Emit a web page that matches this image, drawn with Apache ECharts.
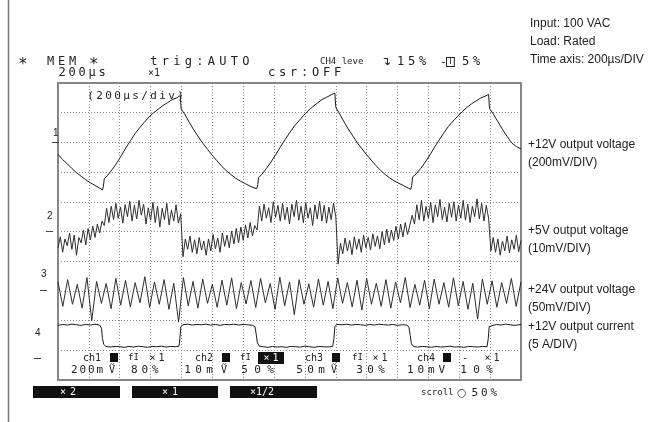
<!DOCTYPE html>
<html>
<head>
<meta charset="utf-8">
<script src="https://cdn.jsdelivr.net/npm/echarts/dist/echarts.min.js"></script>
<style>
  html, body { margin: 0; padding: 0; background: #fff; }
  #main { width: 651px; height: 422px; }
</style>
</head>
<body>
<div id="main"></div>
<script>
// scope screen: 15 div across, 10 div high. all trace values in divisions
var ch1 = [
  [0,7.60],[0.15,7.42],[0.3,7.28],[0.45,7.12],[0.6,6.98],[0.75,6.86],[0.9,6.74],[1.05,6.64],[1.2,6.55],[1.35,6.46],[1.44,6.40],
  [1.47,6.52],[1.50,6.78],[1.6,6.88],[1.75,7.08],[1.9,7.30],[2.05,7.55],[2.2,7.82],[2.35,8.06],[2.5,8.30],[2.65,8.50],[2.8,8.68],[2.95,8.86],[3.1,9.00],[3.25,9.12],[3.4,9.24],[3.55,9.34],[3.7,9.44],[3.85,9.50],[3.96,9.58],
  [3.99,9.12],[4.1,8.96],[4.25,8.68],[4.4,8.42],[4.55,8.18],[4.7,7.96],[4.85,7.76],[5.0,7.56],[5.15,7.38],[5.3,7.20],[5.45,7.05],[5.6,6.92],[5.75,6.80],[5.9,6.70],[6.05,6.62],[6.2,6.54],[6.35,6.47],[6.44,6.44],
  [6.47,6.58],[6.50,6.82],[6.6,6.92],[6.75,7.12],[6.9,7.34],[7.05,7.58],[7.2,7.84],[7.35,8.08],[7.5,8.32],[7.65,8.54],[7.8,8.72],[7.95,8.90],[8.1,9.06],[8.25,9.20],[8.4,9.32],[8.55,9.44],[8.7,9.52],[8.85,9.60],[8.97,9.66],
  [9.0,9.18],[9.1,9.00],[9.25,8.72],[9.4,8.46],[9.55,8.22],[9.7,7.98],[9.85,7.78],[10.0,7.58],[10.15,7.40],[10.3,7.22],[10.45,7.06],[10.6,6.92],[10.75,6.80],[10.9,6.70],[11.05,6.62],[11.2,6.54],[11.35,6.46],[11.43,6.42],
  [11.46,6.56],[11.49,6.84],[11.6,6.94],[11.75,7.12],[11.9,7.34],[12.05,7.58],[12.2,7.84],[12.35,8.08],[12.5,8.32],[12.65,8.54],[12.8,8.72],[12.95,8.88],[13.1,9.04],[13.25,9.18],[13.4,9.30],[13.55,9.40],[13.7,9.50],[13.85,9.56],[13.95,9.62],
  [13.98,9.14],[14.1,8.96],[14.25,8.70],[14.4,8.44],[14.55,8.20],[14.7,7.98],[14.85,7.86],[15.0,7.78]
];

// +5V ripple, one sample every 0.075 div
var ch2Step = 0.075;
var ch2 = [
  4.45,4.82,4.30,4.75,4.52,4.95,4.40,4.88,4.20,4.80, 4.62,5.05,4.55,5.10,4.72,5.18,4.80,5.25,4.95,5.35,
  5.20,5.78,5.30,5.85,5.40,5.95,5.45,5.82,5.28,5.90, 5.50,6.02,5.35,5.88,5.42,6.05,5.55,5.92,5.25,5.80,
  5.38,5.98,5.30,5.85,5.15,5.78,5.40,5.95,5.22,5.72, 5.35,5.90,5.28,5.60,4.15,4.75,4.40,4.85,4.30,4.72,
  4.25,4.80,4.38,4.68,4.20,4.75,4.35,4.90,4.42,4.78, 4.30,4.95,4.50,4.88,4.45,5.02,4.58,5.10,4.62,5.15,
  4.70,5.22,4.78,5.30,4.85,5.20,5.05,5.85,5.35,5.92, 5.45,5.80,5.30,6.00,5.48,5.88,5.35,5.95,5.40,5.82,
  5.25,5.92,5.50,6.05,5.38,5.85,5.30,5.98,5.45,5.80, 5.20,5.90,5.42,6.02,5.35,5.88,5.28,5.82,5.40,5.95,
  5.50,3.90,4.60,4.25,4.78,4.35,4.70,4.22,4.82,4.40, 4.75,4.30,4.88,4.45,4.80,4.38,4.92,4.50,4.85,4.42,
  5.00,4.55,5.08,4.62,5.05,4.70,5.18,4.75,5.25,4.82, 5.30,4.90,5.22,5.55,5.25,5.90,5.40,6.05,5.35,5.85,
  5.45,5.98,5.30,5.90,5.50,6.08,5.40,5.82,5.32,5.95, 5.48,6.00,5.35,5.88,5.45,6.05,5.38,5.92,5.30,5.85,
  5.50,6.10,5.42,5.95,5.35,5.88,5.45,4.35,4.80,4.30, 4.75,4.20,4.68,4.35,4.85,4.28,4.72,4.40,4.88,4.32,
  4.70
];

// +24V ripple, alternating peaks and valleys every 0.15625 div
var ch3Step = 0.15625;
var ch3 = [
  3.30,2.48,3.38,2.55,3.22,2.42,3.45,2.00,3.32,2.58,
  3.25,2.40,3.42,2.52,3.35,2.46,3.28,2.60,3.48,2.44,
  3.30,2.55,3.38,2.38,3.26,1.95,3.45,2.50,3.32,2.42,
  3.40,2.58,3.22,2.45,3.36,2.52,3.44,2.40,3.28,2.56,
  3.35,2.44,3.42,2.60,3.25,2.38,3.46,2.50,3.30,2.20,
  3.38,2.55,3.24,2.45,3.40,2.52,3.32,2.40,3.44,2.58,
  3.28,2.46,3.36,2.35,3.42,2.55,3.26,2.48,3.38,2.42,
  3.30,2.60,3.45,2.44,3.22,2.52,3.36,2.40,3.40,2.55,
  3.28,2.45,3.44,2.50,3.32,2.38,3.26,2.05,3.40,2.55,
  3.34,2.45,3.28,2.58,3.42,2.48,3.30
];

var ch4 = [
  [0,1.84],[0.15,1.87],[0.3,1.85],[0.45,1.88],[0.6,1.86],[0.75,1.84],[0.9,1.87],[1.05,1.85],[1.2,1.88],[1.35,1.85],
  [1.41,1.74],[1.44,1.40],[1.48,1.20],[1.55,1.13],[1.7,1.11],[1.85,1.13],[2.0,1.12],[2.15,1.10],[2.3,1.13],[2.45,1.11],
  [2.6,1.14],[2.75,1.12],[2.9,1.10],[3.05,1.13],[3.2,1.12],[3.35,1.14],[3.5,1.11],[3.65,1.13],[3.8,1.12],[3.92,1.14],
  [3.95,1.40],[3.98,1.80],[4.05,1.86],[4.2,1.88],[4.35,1.85],[4.5,1.87],[4.65,1.86],[4.8,1.88],[4.95,1.85],[5.1,1.87],
  [5.25,1.84],[5.4,1.87],[5.55,1.86],[5.7,1.88],[5.85,1.85],[6.0,1.87],[6.15,1.86],[6.3,1.84],[6.38,1.80],[6.42,1.55],
  [6.46,1.25],[6.52,1.14],[6.65,1.12],[6.8,1.10],[6.95,1.13],[7.1,1.11],[7.25,1.12],[7.4,1.10],[7.55,1.13],[7.7,1.12],
  [7.85,1.11],[8.0,1.14],[8.15,1.12],[8.3,1.10],[8.45,1.13],[8.6,1.12],[8.75,1.11],[8.9,1.13],[8.94,1.40],[8.97,1.80],
  [9.03,1.87],[9.2,1.86],[9.35,1.88],[9.5,1.85],[9.65,1.87],[9.8,1.86],[9.95,1.84],[10.1,1.87],[10.25,1.85],[10.4,1.88],
  [10.55,1.86],[10.7,1.85],[10.85,1.87],[11.0,1.84],[11.15,1.86],[11.3,1.85],[11.37,1.78],[11.41,1.50],[11.45,1.22],[11.52,1.13],
  [11.65,1.11],[11.8,1.13],[11.95,1.12],[12.1,1.10],[12.25,1.13],[12.4,1.11],[12.55,1.12],[12.7,1.14],[12.85,1.11],[13.0,1.12],
  [13.15,1.10],[13.3,1.13],[13.45,1.12],[13.6,1.11],[13.75,1.13],[13.9,1.12],[13.94,1.40],[13.97,1.80],[14.03,1.86],[14.2,1.87],
  [14.35,1.85],[14.5,1.88],[14.65,1.86],[14.8,1.84],[15.0,1.87]
];

var notes = ['Input: 100 VAC', 'Load: Rated', 'Time axis: 200µs/DIV'];
var traceNames = ['+12V output voltage', '+5V output voltage', '+24V output voltage', '+12V output current'];
var traceScales = ['(200mV/DIV)', '(10mV/DIV)', '(50mV/DIV)', '(5 A/DIV)'];
var chVolts = ['200m', '10m', '50m', '10m'];
var chPos = ['80%', '50%', '30%', '10%'];

var MONO = 'DejaVu Sans Mono';
var SANS = 'Liberation Sans';
var INK = '#222';

function txt(x, y, s, size, family, extra) {
  var style = { text: s, fontSize: size, fontFamily: family || MONO, fill: INK, verticalAlign: 'middle' };
  if (extra) for (var k in extra) style[k] = extra[k];
  return { type: 'text', x: x, y: y, silent: true, z: 10, style: style };
}
// scope font has a very wide letter pitch, so each char gets its own fixed cell
function spaced(x, y, s, pitch, size, color, extra) {
  var style = {
    text: s.split('').map(function (c) { return '{c|' + c + '}'; }).join(''),
    verticalAlign: 'middle',
    rich: { c: { width: pitch, align: 'center', fontSize: size, fontFamily: MONO, fill: color || INK } }
  };
  if (extra) for (var k in extra) style[k] = extra[k];
  return { type: 'text', x: x, y: y, silent: true, z: 10, style: style };
}
function box(x, y, w, h) {
  return { type: 'rect', silent: true, z: 10, shape: { x: x, y: y, width: w, height: h }, style: { fill: '#111' } };
}
function dash(x1, x2, y) {
  return { type: 'line', silent: true, z: 10, shape: { x1: x1, y1: y, x2: x2, y2: y }, style: { stroke: '#444', lineWidth: 1 } };
}

var graphic = [
  // frame line on the far left
  { type: 'line', silent: true, shape: { x1: 8.5, y1: 0, x2: 8.5, y2: 422 }, style: { stroke: '#777', lineWidth: 1.5 } },

  txt(530, 24, notes[0], 12, SANS),
  txt(530, 42, notes[1], 12, SANS),
  txt(530, 60, notes[2], 12, SANS),

  // header, line 1
  txt(18, 65, '*', 16, MONO),
  spaced(45, 62, 'MEM', 11, 12),
  txt(89, 65, '*', 16, MONO),
  spaced(148, 62, 'trig:AUTO', 11.5, 12),
  txt(320, 62, 'CH4 leve', 9, MONO),
  txt(381, 62, '↴', 12, 'DejaVu Sans'),
  spaced(395, 62, '15%', 11, 12),
  txt(440, 62, '-', 11, MONO),
  txt(447, 62, 'T', 8, MONO, { backgroundColor: '#fff', borderColor: '#222', borderWidth: 1, padding: [0, 1] }),
  spaced(460, 62, '5%', 11, 12),
  // header, line 2
  spaced(57, 73, '200µs', 10, 12),
  txt(148, 73, '×1', 10, MONO),
  spaced(266, 73, 'csr:OFF', 11, 12),

  // inside the screen
  spaced(86, 96, '(200µs/div)', 9, 11),

  // channel markers
  txt(53, 133, '1', 10, SANS), dash(52, 59, 142.5),
  txt(47, 216, '2', 10, SANS), dash(46, 53, 231.5),
  txt(41, 274, '3', 10, SANS), dash(40, 47, 290.5),
  txt(35, 333, '4', 10, SANS), dash(34, 41, 358.5),

  // right hand labels
  txt(528, 145, traceNames[0], 12, SANS), txt(528, 163, traceScales[0], 12, SANS),
  txt(528, 231, traceNames[1], 12, SANS), txt(528, 249, traceScales[1], 12, SANS),
  txt(528, 290, traceNames[2], 12, SANS), txt(528, 308, traceScales[2], 12, SANS),
  txt(528, 327, traceNames[3], 12, SANS), txt(528, 345, traceScales[3], 12, SANS),

  // channel settings rows
  txt(83, 358, 'ch1', 10, MONO), box(110, 353, 8, 9), txt(128, 358, 'fI', 9, MONO), spaced(148, 358, '×1', 9, 10),
  txt(195, 358, 'ch2', 10, MONO), box(222, 353, 8, 9), txt(240, 358, 'fI', 9, MONO),
  spaced(258, 358, '×1', 9, 10, '#fff', { backgroundColor: '#111', padding: [1, 4] }),
  txt(305, 358, 'ch3', 10, MONO), box(332, 353, 8, 9), txt(352, 358, 'fI', 9, MONO), spaced(371, 358, '×1', 9, 10),
  txt(417, 358, 'ch4', 10, MONO), box(443, 353, 8, 9), txt(462, 358, '-', 10, MONO), spaced(483, 358, '×1', 9, 10),

  spaced(70, 370, chVolts[0], 8.5, 11), txt(109, 370, 'Ṽ', 10, MONO), spaced(129, 370, chPos[0], 10.5, 11),
  spaced(182, 370, chVolts[1], 11, 11), txt(221, 370, 'Ṽ', 10, MONO), spaced(238, 370, chPos[1], 13, 11),
  spaced(294, 370, chVolts[2], 11, 11), txt(331, 370, 'Ṽ', 10, MONO), spaced(354, 370, chPos[2], 11, 11),
  spaced(405, 370, chVolts[3] + 'V', 10.5, 11), spaced(457, 370, chPos[3], 13, 11),

  // soft keys under the screen
  box(33, 386, 87, 12), spaced(58, 392, '×2', 10, 10, '#fff'),
  box(132, 386, 86, 12), spaced(160, 392, '×1', 10, 10, '#fff'),
  box(230, 386, 87, 12), txt(250, 392, '×1/2', 10, MONO, { fill: '#fff' }),
  txt(421, 393, 'scroll', 9, MONO), txt(457, 393, '○', 11, 'DejaVu Sans'), spaced(470, 393, '50%', 9.5, 11)
];

function axis(max) {
  return {
    type: 'value', min: 0, max: max, interval: 1,
    axisLine: { show: false }, axisTick: { show: false }, axisLabel: { show: false },
    splitLine: { show: true, lineStyle: { color: '#8a8a8a', type: [1, 2], width: 1 } }
  };
}

function trace(data, color) {
  return {
    type: 'line', data: data, showSymbol: false, symbol: 'none', silent: true,
    lineStyle: { color: color, width: 1 }
  };
}

var chart = echarts.init(document.getElementById('main'));
chart.setOption({
  animation: false,
  backgroundColor: '#fff',
  grid: { left: 58, top: 83, right: 130, bottom: 42, show: true, borderColor: '#858585', borderWidth: 2 },
  xAxis: axis(15),
  yAxis: axis(10),
  graphic: graphic,
  series: [
    trace(ch1, '#1a1a1a'),
    trace(ch2.map(function (v, i) { return [i * ch2Step, v]; }), '#2e2e2e'),
    trace(ch3.map(function (v, i) { return [i * ch3Step, v]; }), '#2e2e2e'),
    trace(ch4, '#1a1a1a')
  ]
});
</script>
</body>
</html>
